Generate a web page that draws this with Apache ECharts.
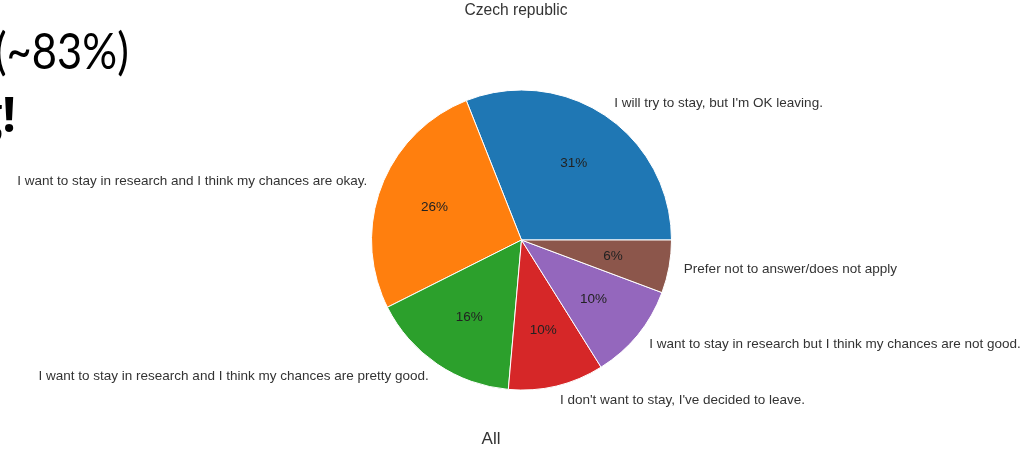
<!DOCTYPE html>
<html>
<head>
<meta charset="utf-8">
<script src="https://cdn.jsdelivr.net/npm/echarts@6/dist/echarts.min.js"></script>
<style>
  html, body { margin: 0; padding: 0; background: #fff; }
  #chart { width: 1023px; height: 450px; }
</style>
</head>
<body>
<div id="chart"></div>
<script>
// answers, counter-clockwise from 3 o'clock
const categories = [
  "I will try to stay, but I'm OK leaving.",
  "I want to stay in research and I think my chances are okay.",
  "I want to stay in research and I think my chances are pretty good.",
  "I don't want to stay, I've decided to leave.",
  "I want to stay in research but I think my chances are not good.",
  "Prefer not to answer/does not apply",
];
const shares = [31.0, 26.4, 16.2, 10.3, 10.4, 5.7];
const colors = ["#1f77b4", "#ff7f0e", "#2ca02c", "#d62728", "#9467bd", "#8c564b"];

const myChart = echarts.init(document.getElementById("chart"));

const labelFont = "'Liberation Sans', Arial, sans-serif";

myChart.setOption({
  animation: false,
  graphic: [
    {
      type: "text",
      x: 516,
      y: 11,
      style: { text: "Czech republic", font: "normal 15.6px " + labelFont, fill: "#333", align: "center", verticalAlign: "middle" },
    },
    // bits of the slide behind the chart
    {
      type: "text",
      x: -5,
      y: 53,
      scaleX: 0.87,
      style: { text: "(~83%)", font: "normal 50px Lato, 'Open Sans', sans-serif", fill: "#000", verticalAlign: "middle" },
    },
    {
      type: "text",
      x: 16,
      y: 118,
      style: { text: "g!", font: "bold 48px 'Open Sans', sans-serif", fill: "#000", align: "right", verticalAlign: "middle" },
    },
    {
      type: "text",
      x: 491,
      y: 439,
      style: { text: "All", font: "normal 17px " + labelFont, fill: "#333", align: "center", verticalAlign: "middle" },
    },
  ],
  series: [
    {
      type: "pie",
      left: 0,
      right: 0,
      top: 0,
      bottom: 0,
      center: [521.5, 240],
      radius: [0, 150],
      startAngle: 0,
      clockwise: false,
      avoidLabelOverlap: false,
      silent: true,
      data: categories.map((name, i) => ({
        name: name,
        value: shares[i],
        itemStyle: { color: colors[i] },
      })),
      itemStyle: { borderColor: "#fff", borderWidth: 1 },
      label: {
        show: true,
        position: "outside",
        formatter: "{b}",
        fontFamily: labelFont,
        fontSize: 13.5,
        color: "#333",
        distanceToLabelLine: 0,
        bleedMargin: 0,
        overflow: "none",
      },
      labelLine: { show: false, length: 15, length2: 0 },
    },
    {
      // percentage labels at 0.6 r
      type: "pie",
      center: [521.5, 240],
      radius: [30, 150],
      startAngle: 0,
      clockwise: false,
      silent: true,
      data: categories.map((name, i) => ({
        name: name,
        value: shares[i],
        itemStyle: { color: "transparent" },
      })),
      label: {
        show: true,
        position: "inside",
        formatter: (p) => Math.round(p.value) + "%",
        fontFamily: labelFont,
        fontSize: 13.5,
        color: "#222",
      },
      labelLine: { show: false },
    },
  ],
});
</script>
</body>
</html>
